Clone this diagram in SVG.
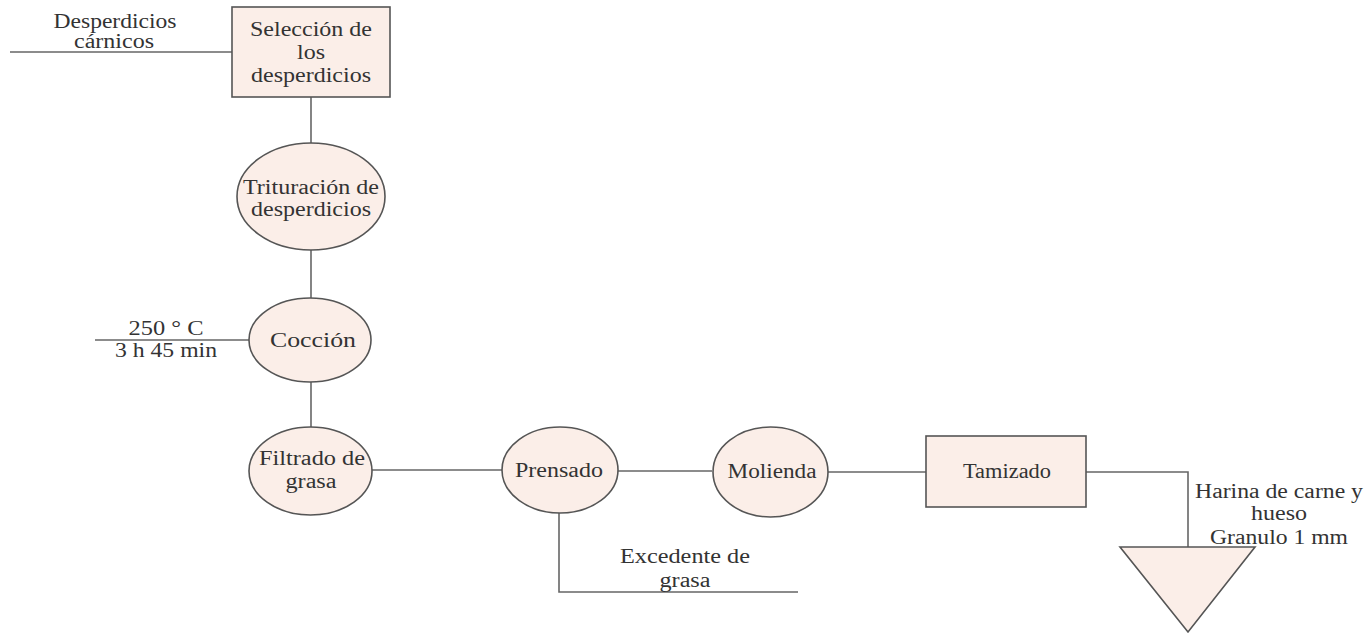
<svg xmlns="http://www.w3.org/2000/svg" width="1368" height="634" viewBox="0 0 1368 634">
<style>
.n{fill:#fbeee8;stroke:#555;stroke-width:1.6}
.c{fill:none;stroke:#666;stroke-width:1.6}
text{font-family:"Liberation Serif","Times New Roman",serif;font-size:20px;fill:#333;text-anchor:middle}
</style>
<rect width="1368" height="634" fill="#fff"/>
<g id="connectors">
<line class="c" x1="10" y1="52" x2="232" y2="52"/>
<line class="c" x1="311" y1="97" x2="311" y2="143"/>
<line class="c" x1="311" y1="250" x2="311" y2="298"/>
<line class="c" x1="95" y1="340" x2="249" y2="340"/>
<line class="c" x1="311" y1="382" x2="311" y2="427"/>
<line class="c" x1="372" y1="470" x2="502" y2="470"/>
<line class="c" x1="618" y1="471" x2="712" y2="471"/>
<line class="c" x1="828" y1="472" x2="926" y2="472"/>
<polyline class="c" points="1086,472 1188,472 1188,547"/>
<polyline class="c" points="559,513 559,592 798,592"/>
</g>
<g id="label-desperdicios">
<text x="115" y="28" textLength="123" lengthAdjust="spacingAndGlyphs">Desperdicios</text>
<text x="114" y="48" textLength="80" lengthAdjust="spacingAndGlyphs">cárnicos</text>
</g>
<g id="node-seleccion">
<rect class="n" x="232" y="7" width="158" height="90"/>
<text x="311" y="36" textLength="122" lengthAdjust="spacingAndGlyphs">Selección de</text>
<text x="311" y="59" textLength="28" lengthAdjust="spacingAndGlyphs">los</text>
<text x="311" y="82" textLength="120" lengthAdjust="spacingAndGlyphs">desperdicios</text>
</g>
<g id="node-trituracion">
<ellipse class="n" cx="311" cy="196.5" rx="74" ry="53.5"/>
<text x="311" y="194" textLength="136" lengthAdjust="spacingAndGlyphs">Trituración de</text>
<text x="311" y="216" textLength="120" lengthAdjust="spacingAndGlyphs">desperdicios</text>
</g>
<g id="label-coccion">
<text x="166" y="335" textLength="75" lengthAdjust="spacingAndGlyphs">250 ° C</text>
<text x="166" y="357" textLength="102" lengthAdjust="spacingAndGlyphs">3 h 45 min</text>
</g>
<g id="node-coccion">
<ellipse class="n" cx="310" cy="340" rx="61" ry="42"/>
<text x="313" y="347" textLength="86" lengthAdjust="spacingAndGlyphs">Cocción</text>
</g>
<g id="node-filtrado">
<ellipse class="n" cx="310.5" cy="471" rx="61.5" ry="44"/>
<text x="312" y="465" textLength="106" lengthAdjust="spacingAndGlyphs">Filtrado de</text>
<text x="311" y="488" textLength="51" lengthAdjust="spacingAndGlyphs">grasa</text>
</g>
<g id="node-prensado">
<ellipse class="n" cx="560" cy="470" rx="58" ry="43"/>
<text x="559" y="477" textLength="88" lengthAdjust="spacingAndGlyphs">Prensado</text>
</g>
<g id="label-excedente">
<text x="685" y="563" textLength="130" lengthAdjust="spacingAndGlyphs">Excedente de</text>
<text x="685" y="587" textLength="51" lengthAdjust="spacingAndGlyphs">grasa</text>
</g>
<g id="node-molienda">
<ellipse class="n" cx="770.5" cy="472" rx="57.5" ry="45"/>
<text x="772" y="478" textLength="89" lengthAdjust="spacingAndGlyphs">Molienda</text>
</g>
<g id="node-tamizado">
<rect class="n" x="926" y="436" width="160" height="71"/>
<text x="1007" y="478" textLength="88" lengthAdjust="spacingAndGlyphs">Tamizado</text>
</g>
<g id="node-harina">
<polygon class="n" points="1120,547 1255,547 1188,632"/>
<text x="1279" y="498" textLength="168" lengthAdjust="spacingAndGlyphs">Harina de carne y</text>
<text x="1279" y="520" textLength="56" lengthAdjust="spacingAndGlyphs">hueso</text>
<text x="1279" y="544" textLength="138" lengthAdjust="spacingAndGlyphs">Granulo 1 mm</text>
</g>
</svg>
